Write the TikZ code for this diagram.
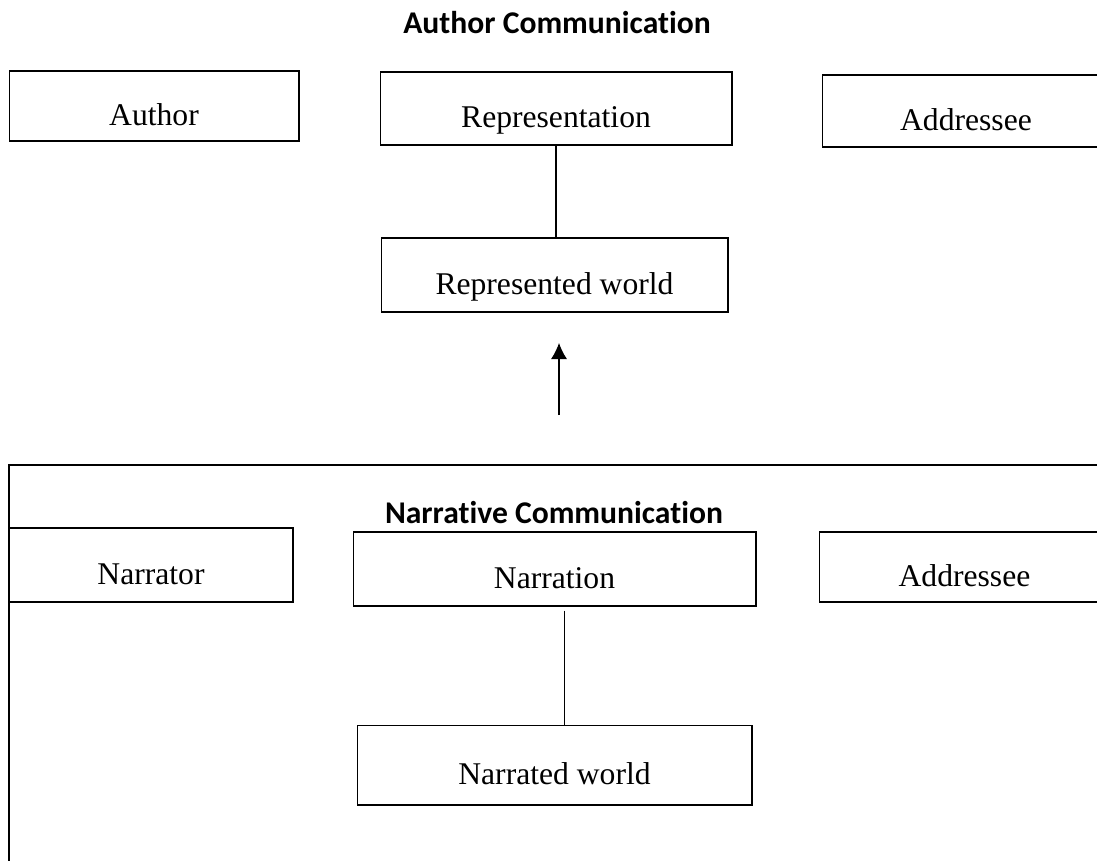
\documentclass[tikz,border=0pt]{standalone}
\usepackage{fontspec}
\setmainfont{Liberation Serif}
\newfontfamily\headfont{Carlito}[Ligatures=NoCommon]
\usetikzlibrary{arrows.meta,calc}

\tikzset{
  box/.style={draw=black, line width=0.6pt, rectangle, inner sep=0pt,
    text height=0.86cm, text depth=0.1cm,
    font=\fontsize{18}{22}\selectfont},
  heading/.style={anchor=base, inner sep=0pt,
    font=\headfont\bfseries\fontsize{18}{22}\selectfont}
}

\begin{document}
\begin{tikzpicture}[x=0.02cm, y=-0.02cm, line width=0.6pt]
            \useasboundingbox (0,0) rectangle (1097,860);

            % Author level
            \node[heading] (authtitle) at (557,33) {Author Communication};
            \node[box, minimum width=5.8cm, minimum height=1.4cm] (author) at (154,106) {Author};
            \node[box, minimum width=7.04cm, minimum height=1.46cm] (repr) at (556,108.5) {Representation};
            \node[box, minimum width=5.76cm, minimum height=1.44cm] (addr1) at (966,111) {Addressee};
            \node[box, minimum width=6.94cm, minimum height=1.48cm] (reprworld) at (554.5,275) {Represented world};
            \draw (repr.south) -- (repr.south |- reprworld.north);

            % Arrow between the levels
            \coordinate (arrfrom) at (559,415);
            \coordinate (arrto) at (559,343);
            \draw[-{Latex[length=0.32cm, width=0.32cm]}] (arrfrom) -- (arrto);

            % Narrative level
            \draw (1120,465) -- (9,465) -- (9,880);
            \node[heading] (nartitle) at (554,523) {Narrative Communication};
            \node[box, minimum width=5.68cm, minimum height=1.48cm] (narrator) at (151,565) {Narrator};
            \node[box, minimum width=8.06cm, minimum height=1.48cm] (narration) at (554.5,569) {Narration};
            \node[box, minimum width=5.82cm, minimum height=1.4cm] (addr2) at (964.5,567) {Addressee};
            \node[box, minimum width=7.9cm, minimum height=1.6cm] (narworld) at (554.5,765) {Narrated world};
            \coordinate (narfoot) at ($(narration.south)+(10,4)$);
            \draw (narfoot) -- (narfoot |- narworld.north);
        \end{tikzpicture}
\end{document}
